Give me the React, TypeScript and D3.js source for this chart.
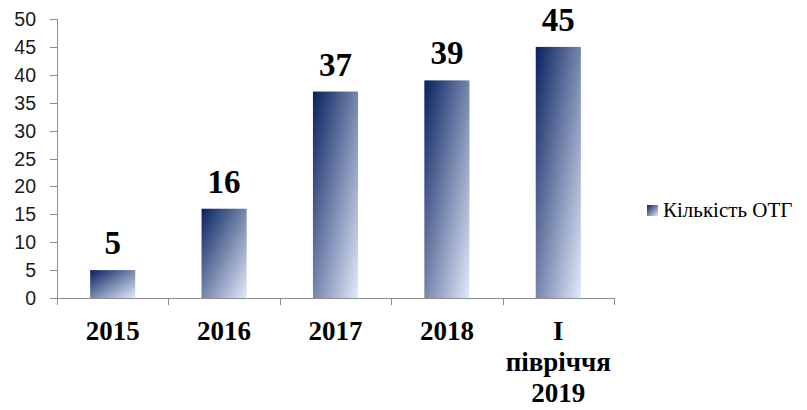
import React from "react";
import * as d3 from "d3";

const categories: string[][] = [["2015"], ["2016"], ["2017"], ["2018"], ["I", "півріччя", "2019"]];
const values: number[] = [5, 16, 37, 39, 45];
const yTicks: number[] = [0, 5, 10, 15, 20, 25, 30, 35, 40, 45, 50];
const seriesName = "Кількість ОТГ";

const SERIF = "Liberation Serif";
const SANS = "Liberation Sans";

export default function App() {
  const W = 807, H = 410;
  const left = 57, right = 614, top = 19, bottom = 298;
  const x = d3.scaleBand<number>().domain(values.map((_, i) => i)).range([left, right]).paddingInner(0.595).paddingOuter(0.2975);
  const y = d3.scaleLinear().domain([0, 50]).range([bottom, top]);
  const band = (right - left) / values.length;
  const boundaries = d3.range(values.length + 1).map((i) => left + i * band);
  return (
    <svg width={W} height={H} style={{ position: "absolute", left: 0, top: 0 }}>
      <defs>
        <linearGradient id="barGrad" x1="0" y1="0" x2="1" y2="1">
          <stop offset="0" stopColor="#08215f" />
          <stop offset="1" stopColor="#e2eafa" />
        </linearGradient>
      </defs>
      <rect width={W} height={H} fill="#fff" />
      <line x1={left + 0.5} x2={left + 0.5} y1={top} y2={bottom} stroke="#8c8c8c" strokeWidth={1} />
      {yTicks.map((t) => (
        <g key={t}>
          <line x1={left - 7} x2={left} y1={Math.round(y(t)) + 0.5} y2={Math.round(y(t)) + 0.5} stroke="#8c8c8c" />
          <text x={36} y={y(t)} dy="0.36em" textAnchor="end" style={{ fontFamily: SANS, fontSize: 19.5 }} fill="#1a1a1a">{t}</text>
        </g>
      ))}
      {values.map((v, i) => (
        <g key={i}>
          <rect x={x(i)} y={y(v)} width={x.bandwidth()} height={y(0) - y(v)} fill="url(#barGrad)" />
          <text x={(x(i) as number) + x.bandwidth() / 2} y={y(v) - 16} textAnchor="middle" style={{ fontFamily: SERIF, fontWeight: 700, fontSize: 33 }} fill="#000">{v}</text>
        </g>
      ))}
      <line x1={left} x2={right} y1={bottom + 0.5} y2={bottom + 0.5} stroke="#8c8c8c" />
      {boundaries.map((bx, i) => (
        <line key={i} x1={Math.round(bx) + 0.5} x2={Math.round(bx) + 0.5} y1={bottom} y2={bottom + 7} stroke="#8c8c8c" />
      ))}
      {categories.map((lines, i) => (
        <text key={i} textAnchor="middle" style={{ fontFamily: SERIF, fontWeight: 700, fontSize: 27 }} fill="#000">
          {lines.map((l, j) => (
            <tspan key={j} x={(x(i) as number) + x.bandwidth() / 2} y={340 + j * 31}>{l}</tspan>
          ))}
        </text>
      ))}
      <rect x={647} y={205} width={11} height={11} fill="url(#barGrad)" />
      <text x={663} y={217} style={{ fontFamily: SERIF, fontSize: 21 }} fill="#000">{seriesName}</text>
    </svg>
  );
}
